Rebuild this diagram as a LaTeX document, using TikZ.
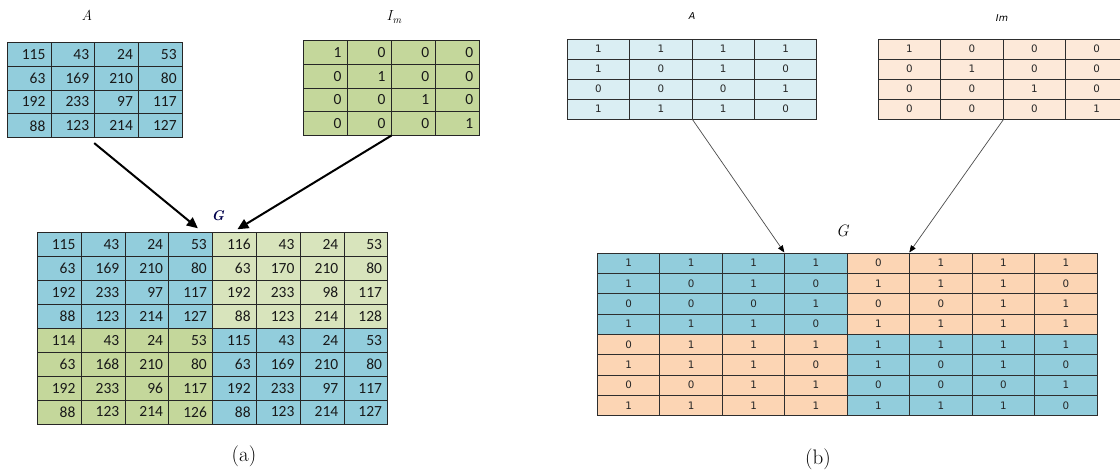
\documentclass[tikz,border=0pt]{standalone}
\usepackage{fontspec}
\newfontfamily\calib{Carlito}
\newfontfamily\verd{DejaVu Sans}
\usetikzlibrary{arrows.meta}
\definecolor{lblue}{HTML}{92CDDC}
\definecolor{olive}{HTML}{C4D79B}
\definecolor{lolive}{HTML}{D8E4BC}
\definecolor{pblue}{HTML}{DAEEF3}
\definecolor{porange}{HTML}{FDE9D9}
\definecolor{orng}{HTML}{FCD5B4}
\definecolor{gline}{HTML}{262626}
\definecolor{rline}{HTML}{2E2E2E}
\newcommand\mygrid[9]{%
  \foreach \row [count=\i] in {#9} {%
    \foreach \v [count=\j] in \row {%
      \pgfmathtruncatemacro\ii{\i+#7}%
      \pgfmathtruncatemacro\jj{\j+#8}%
      \node[#6, minimum width=#4, minimum height=#5] (#1-\ii-\jj)
        at ({#2+#4*(\j-0.5)},{#3+#5*(\i-0.5)}) {\v};
    }%
  }%
}
\tikzset{
  lcell/.style={draw=gline, line width=0.8pt, inner xsep=5.5pt, inner ysep=0pt,
    text width=32.5pt, align=right, font=\calib\fontsize{15.5}{16}\selectfont, text=black!90},
  rcell/.style={draw=rline, line width=0.8pt, inner sep=0pt, align=center,
    font=\verd\fontsize{10.3}{11}\selectfont, text=black!85},
  larrow/.style={line width=2pt, -{Triangle[length=11pt,width=10pt]}},
  rarrow/.style={draw=black!70, line width=0.7pt, -{Triangle[length=7pt,width=5.5pt,color=black,fill=black]}},
  mlabel/.style={inner sep=0pt, font=\itshape\fontsize{14.5}{16}\selectfont},
  rlabel/.style={inner sep=0pt, font=\verd\itshape\fontsize{9.5}{11}\selectfont},
  caption/.style={inner sep=0pt, font=\fontsize{21}{24}\selectfont}
}
\begin{document}
\begin{tikzpicture}[x=1pt,y=-1pt]
\useasboundingbox (0,0) rectangle (1120,474);
\fill[white] (0,0) rectangle (1120,474);
\begin{scope}
\clip (0,0) rectangle (1120,474);
% ---------- (a) ----------
\node[mlabel] (labA) at (87,15) {A};
\node[mlabel] (labI) at (394,17.5) {I\kern0.5pt\raisebox{-3pt}{\fontsize{10.5}{12}\selectfont m}};
\node[mlabel, text=black!70!blue, font=\bfseries\itshape\fontsize{14}{16}\selectfont] (labG) at (218,216) {G};
\mygrid{A}{7.3}{42.3}{43.75}{23.85}{lcell, fill=lblue}{0}{0}{{115,43,24,53},{63,169,210,80},{192,233,97,117},{88,123,214,127}}
\mygrid{I}{303.3}{40.7}{43.9}{23.6}{lcell, fill=olive}{0}{0}{{1,0,0,0},{0,1,0,0},{0,0,1,0},{0,0,0,1}}
\mygrid{G}{37.3}{232.7}{43.8}{23.9}{lcell, fill=lblue}{0}{0}{{115,43,24,53},{63,169,210,80},{192,233,97,117},{88,123,214,127}}
\mygrid{G}{212.5}{232.7}{43.8}{23.9}{lcell, fill=lolive}{0}{4}{{116,43,24,53},{63,170,210,80},{192,233,98,117},{88,123,214,128}}
\mygrid{G}{37.3}{328.3}{43.8}{23.9}{lcell, fill=olive}{4}{0}{{114,43,24,53},{63,168,210,80},{192,233,96,117},{88,123,214,126}}
\mygrid{G}{212.5}{328.3}{43.8}{23.9}{lcell, fill=lblue}{4}{4}{{115,43,24,53},{63,169,210,80},{192,233,97,117},{88,123,214,127}}
\draw[larrow] ([shift={(-1,5)}]A-4-2.south east) -- ([shift={(-15,-4)}]G-1-4.north east);
\draw[larrow] (I-4-2.south east) -- ([shift={(3,-3)}]G-1-5.north);
\node[caption] (capa) at (244,456.5) {(a)};
% ---------- (b) ----------
\node[rlabel] (rlabA) at (692,16.5) {A};
\node[rlabel] (rlabI) at (1002,18.5) {Im};
\node[mlabel, font=\itshape\fontsize{16.5}{18}\selectfont] (rlabG) at (842.3,230.7) {G};
\mygrid{rA}{567.3}{39}{62.35}{20}{rcell, fill=pblue}{0}{0}{{1,1,1,1},{1,0,1,0},{0,0,0,1},{1,1,1,0}}
\mygrid{rI}{878.3}{39}{62.4}{20}{rcell, fill=porange}{0}{0}{{1,0,0,0},{0,1,0,0},{0,0,1,0},{0,0,0,1}}
\mygrid{rG}{597.4}{252.9}{62.46}{20.34}{rcell, fill=lblue}{0}{0}{{1,1,1,1},{1,0,1,0},{0,0,0,1},{1,1,1,0}}
\mygrid{rG}{847.24}{252.9}{62.46}{20.34}{rcell, fill=orng}{0}{4}{{0,1,1,1},{1,1,1,0},{0,0,1,1},{1,1,1,1}}
\mygrid{rG}{597.4}{334.26}{62.46}{20.34}{rcell, fill=orng}{4}{0}{{0,1,1,1},{1,1,1,0},{0,0,1,1},{1,1,1,1}}
\mygrid{rG}{847.24}{334.26}{62.46}{20.34}{rcell, fill=lblue}{4}{4}{{1,1,1,1},{1,0,1,0},{0,0,0,1},{1,1,1,0}}
\draw[rarrow] (rA-4-2.south east) -- (rG-1-4.north west);
\draw[rarrow] (rI-4-2.south east) -- (rG-1-6.north west);
\node[caption] (capb) at (818,459.5) {(b)};
\end{scope}
\end{tikzpicture}
\end{document}
